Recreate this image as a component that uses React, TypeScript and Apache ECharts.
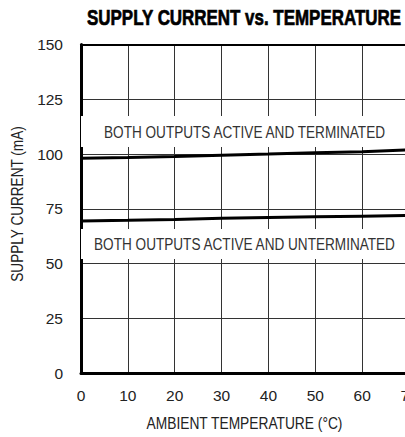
import React, { useEffect, useRef } from "react";
import * as echarts from "echarts";

const temperatures = [0, 10, 20, 30, 40, 50, 60, 70];
const terminated = [98.1, 98.4, 98.9, 99.5, 100.0, 100.6, 101.1, 101.9];
const unterminated = [69.5, 69.8, 70.2, 70.7, 71.1, 71.4, 71.7, 72.0];
const terminatedLabel = "BOTH OUTPUTS ACTIVE AND TERMINATED";
const unterminatedLabel = "BOTH OUTPUTS ACTIVE AND UNTERMINATED";
const terminatedBand = [103.2, 117.4];
const unterminatedBand = [52.1, 65.8];
const yTicks = [0, 25, 50, 75, 100, 125, 150];
const titleText = "SUPPLY CURRENT vs. TEMPERATURE";
const xName = "AMBIENT TEMPERATURE (°C)";
const yName = "SUPPLY CURRENT (mA)";

const FONT = "'Liberation Sans', Arial, sans-serif";

export default function App() {
  const ref = useRef<HTMLDivElement>(null);
  useEffect(() => {
    document.body.style.margin = "0";
    if (!ref.current) return;
    const chart = echarts.init(ref.current, null, { renderer: "svg" });
    const band = (range: number[]) => ({
      silent: true,
      itemStyle: { color: "#ffffff" },
      label: { show: false },
      data: [[{ yAxis: range[0] }, { yAxis: range[1] }]],
    });
    const condensed = (
      text: string,
      x: number,
      y: number,
      fontSize: number,
      scaleX: number,
      opts: any = {}
    ) => ({
      type: "text",
      x,
      y,
      scaleX,
      rotation: opts.rotation || 0,
      silent: true,
      z: 100,
      style: {
        text,
        x: 0,
        y: 0,
        align: "center",
        verticalAlign: "middle",
        fontFamily: FONT,
        fontSize,
        fontWeight: opts.fontWeight || "normal",
        fill: opts.fill || "#333",
        stroke: opts.stroke || null,
        lineWidth: opts.lineWidth || 0,
      },
    });
    chart.setOption({
      animation: false,
      backgroundColor: "#ffffff",
      grid: { left: 81, top: 44.5, right: -4, bottom: 63.7, outerBoundsMode: "none", containLabel: false },
      xAxis: [
        {
          type: "value",
          min: 0,
          max: 70,
          interval: 10,
          axisLine: { show: true, onZero: false, lineStyle: { color: "#000", width: 3 } },
          axisTick: { show: false },
          axisLabel: {
            fontFamily: FONT,
            fontSize: 15.5,
            color: "#222",
            margin: 14,
            showMaxLabel: true,
          },
          splitLine: { show: true, lineStyle: { color: "#333", width: 1 } },
        },
        {
          type: "value",
          position: "top",
          min: 0,
          max: 70,
          interval: 10,
          axisLine: { show: true, onZero: false, lineStyle: { color: "#000", width: 2 } },
          axisTick: { show: false },
          axisLabel: { show: false },
          splitLine: { show: false },
        },
      ],
      yAxis: {
        type: "value",
        min: yTicks[0],
        max: yTicks[yTicks.length - 1],
        interval: 25,
        axisLine: { show: true, onZero: false, lineStyle: { color: "#000", width: 3 } },
        axisTick: { show: false },
        axisLabel: { fontFamily: FONT, fontSize: 15.5, color: "#222", margin: 18 },
        splitLine: { show: true, lineStyle: { color: "#333", width: 1 } },
      },
      graphic: [
        condensed(titleText, 244, 17.5, 22, 0.77, {
          fontWeight: "bold",
          fill: "#000",
          stroke: "#000",
          lineWidth: 0.7,
        }),
        condensed(terminatedLabel, 244.5, 132, 17, 0.8),
        condensed(unterminatedLabel, 244.5, 244, 17, 0.8),
        condensed(xName, 244.5, 423, 17, 0.81, { fill: "#222" }),
        condensed(yName, 17, 204, 17, 0.8, { fill: "#222", rotation: Math.PI / 2 }),
      ],
      series: [
        {
          type: "line",
          data: temperatures.map((t, i) => [t, terminated[i]]),
          symbol: "none",
          lineStyle: { color: "#000", width: 3 },
          markArea: band(terminatedBand),
          z: 3,
        },
        {
          type: "line",
          data: temperatures.map((t, i) => [t, unterminated[i]]),
          symbol: "none",
          lineStyle: { color: "#000", width: 3 },
          markArea: band(unterminatedBand),
          z: 3,
        },
      ],
    });
    return () => chart.dispose();
  }, []);
  return <div ref={ref} style={{ width: 405, height: 437 }} />;
}
